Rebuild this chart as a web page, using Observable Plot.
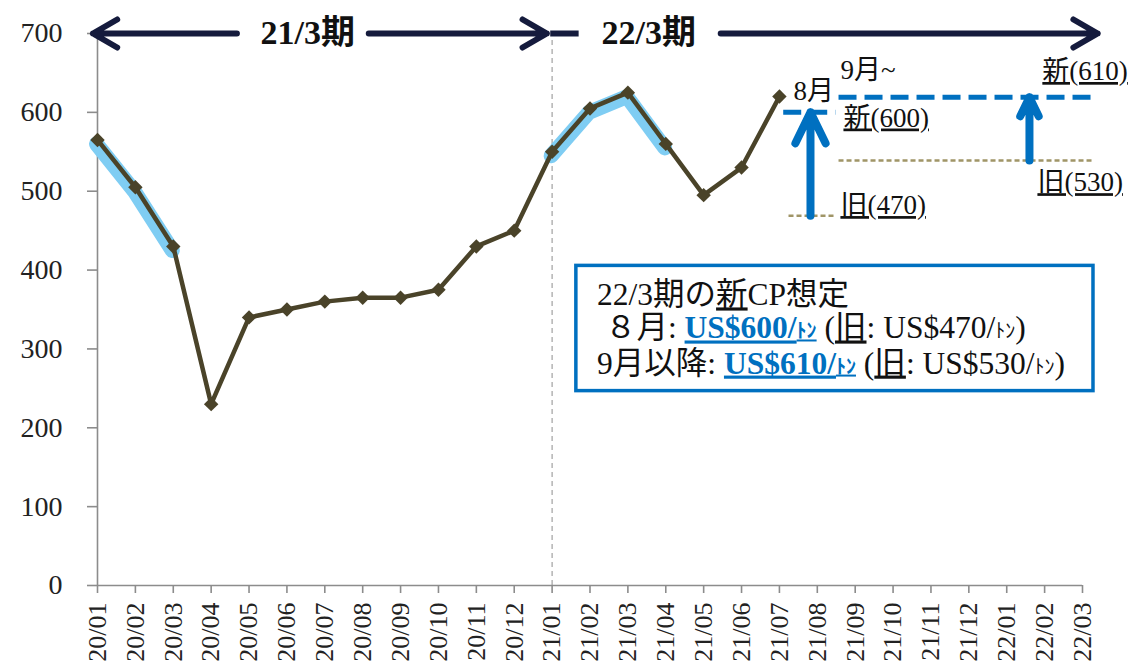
<!DOCTYPE html>
<html><head><meta charset="utf-8">
<script src="https://cdn.jsdelivr.net/npm/d3@7"></script>
<script src="https://cdn.jsdelivr.net/npm/@observablehq/plot@0.6"></script>
<style>
body{margin:0;background:#fff;}
#chart svg{display:block;}
#chart svg text{font-family:'Liberation Serif','Noto Sans CJK JP',serif;}
</style>
</head><body><div id="chart"></div>
<script>
// ---- data ----
const months = ["20/01","20/02","20/03","20/04","20/05","20/06","20/07","20/08","20/09","20/10","20/11","20/12",
  "21/01","21/02","21/03","21/04","21/05","21/06","21/07","21/08","21/09","21/10","21/11","21/12","22/01","22/02","22/03"];
const prices = [565,505,430,230,340,350,360,365,365,375,430,450,550,605,625,560,495,530,620];
const yTicks = [0,100,200,300,400,500,600,700];
const highlightRanges = [[0,2],[12,15]];            // month index ranges highlighted in light blue
const periodLabels = ["21/3期","22/3期"];
const periodLabelX = [5.55,14.55];
const periodArrows = [{x1:3.68,x2:-0.12},{x1:7.16,x2:11.86},{x1:16.45,x2:26.4}];
const periodStub = [{x1:11.95,x2:12.7}];
const newLevelLines = [{x1:18.1,x2:19.48,y:600},{x1:19.56,x2:26.34,y:619}];
const oldLevelLines = [{x1:18.24,x2:19.43,y:469},{x1:19.56,x2:26.29,y:539}];
const upArrows = [{x:18.82,from:469,to:600},{x:24.6,from:539,to:619}];
const noteTexts = ["8月","9月~","新(610)","新(600)","旧(470)","旧(530)"];
const noteX = [18.37,19.61,24.94,19.69,19.61,24.81];
const noteY = [626,653,652,593,482,511];
const boxCorners = {x1:12.64,x2:26.29,y1:246.5,y2:405.3};
const boxLines = [
  [["22/3期の",""],["新","u"],["CP想定",""]],
  [[" ８月: ",""],["US$600/","bbu"],["ﾄﾝ","bbus"],[" (",""],["旧","u"],[": US$470/",""],["ﾄﾝ","s"],[")",""]],
  [["9月以降: ",""],["US$610/","bbu"],["ﾄﾝ","bbus"],[" (",""],["旧","u"],[": US$530/",""],["ﾄﾝ","s"],[")",""]]
];
const boxTextX = 13.2;
const boxTextY = [354.5,312.6,268.1];

// ---- styles ----
const ink = "#4a4329", navy = "#151b3d", blue = "#0070c0", olive = "#a09567", hl = "#7fcdf3";
const serif = "'Liberation Serif','Noto Sans CJK JP',serif";

const series = prices.map((v,i)=>({i, v}));
const hlData = highlightRanges.flatMap(([a,b],k)=>series.slice(a,b+1).map(d=>({...d, seg:k})));
const periods = periodLabels.map((label,k)=>({label, x:periodLabelX[k]}));
const notes = noteTexts.map((t,k)=>({t, x:noteX[k], y:noteY[k]}));

const plot = Plot.plot({
  width: 1134, height: 671,
  marginTop: 33, marginBottom: 86, marginLeft: 97, marginRight: 52,
  style: {fontFamily: serif, background: "#fff", color: "#222"},
  x: {type: "linear", domain: [0, 26]},
  y: {domain: [0, 700]},
  marks: [
    Plot.ruleX([12], {y1: 0, y2: 700, stroke: "#a8a8a8", strokeWidth: 1.3, strokeDasharray: "5,4"}),
    Plot.ruleX([0], {stroke: "#8c8c8c", strokeWidth: 1.6}),
    Plot.ruleY([0], {stroke: "#8c8c8c", strokeWidth: 1.6}),
    Plot.axisY({ticks: yTicks, tickSize: 10, tickPadding: 25, fontSize: 28, stroke: "#8c8c8c", strokeWidth: 1.6, fill: "#222", label: null}),
    Plot.axisX({ticks: d3.range(months.length), tickFormat: i => months[i], tickRotate: -90, tickSize: 8, tickPadding: 9,
      fontSize: 26, stroke: "#8c8c8c", strokeWidth: 1.6, fill: "#222", label: null}),
    Plot.line(hlData, {x: "i", y: "v", z: "seg", stroke: hl, strokeWidth: 15, strokeLinecap: "round", strokeLinejoin: "round", dy: 4, dx: -1}),
    Plot.line(series, {x: "i", y: "v", stroke: ink, strokeWidth: 4.5, strokeLinejoin: "round"}),
    Plot.dot(series, {x: "i", y: "v", symbol: "diamond2", r: 6.5, fill: ink}),
    // period arrows
    Plot.arrow(periodArrows, {x1: "x1", x2: "x2", y1: 700, y2: 700, stroke: navy, strokeWidth: 6, headLength: 7, headAngle: 60,
      strokeLinecap: "round", strokeLinejoin: "round"}),
    Plot.link(periodStub, {x1: "x1", x2: "x2", y1: 700, y2: 700, stroke: navy, strokeWidth: 6}),
    Plot.text(periods, {x: "x", y: 700, text: "label", fontSize: 34, fontWeight: "bold", fill: "#111"}),
    // level annotations
    Plot.link(oldLevelLines, {x1: "x1", x2: "x2", y1: "y", y2: "y", stroke: olive, strokeWidth: 2.5, strokeDasharray: "5,3"}),
    Plot.link(newLevelLines, {x1: "x1", x2: "x2", y1: "y", y2: "y", stroke: blue, strokeWidth: 5, strokeDasharray: "18,8"}),
    Plot.arrow(upArrows, {x1: "x", x2: "x", y1: "from", y2: "to", stroke: blue, strokeWidth: 8, headLength: 7, headAngle: 52,
      strokeLinecap: "round", strokeLinejoin: "round"}),
    Plot.text(notes, {x: "x", y: "y", text: "t", textAnchor: "start", fontSize: 27, fill: "#111"}),
    // box
    Plot.rect([boxCorners], {x1: "x1", x2: "x2", y1: "y1", y2: "y2", fill: "#fff", stroke: blue, strokeWidth: 3.5})
  ]
});

const svg = d3.select(plot);
svg.selectAll("text").filter(function(){ return /^[新旧]\(/.test(this.textContent); })
  .style("text-decoration", "underline");

const sx = plot.scale("x"), sy = plot.scale("y");
const g = svg.append("g").attr("font-size", 31.5).attr("fill", "#111").attr("text-anchor", "start");
boxLines.forEach((line, k) => {
  const t = g.append("text").attr("x", sx.apply(boxTextX)).attr("y", sy.apply(boxTextY[k])).attr("text-anchor", "start").style("white-space","pre");
  line.forEach(([s, f]) => {
    const sp = t.append("tspan").text(s);
    if (f.includes("bb")) sp.attr("font-weight", "bold").attr("fill", blue);
    if (f.includes("u")) sp.style("text-decoration", "underline");
    if (f.includes("s")) sp.attr("font-size", 20);
  });
});

document.getElementById("chart").append(plot);
</script>
</body></html>
